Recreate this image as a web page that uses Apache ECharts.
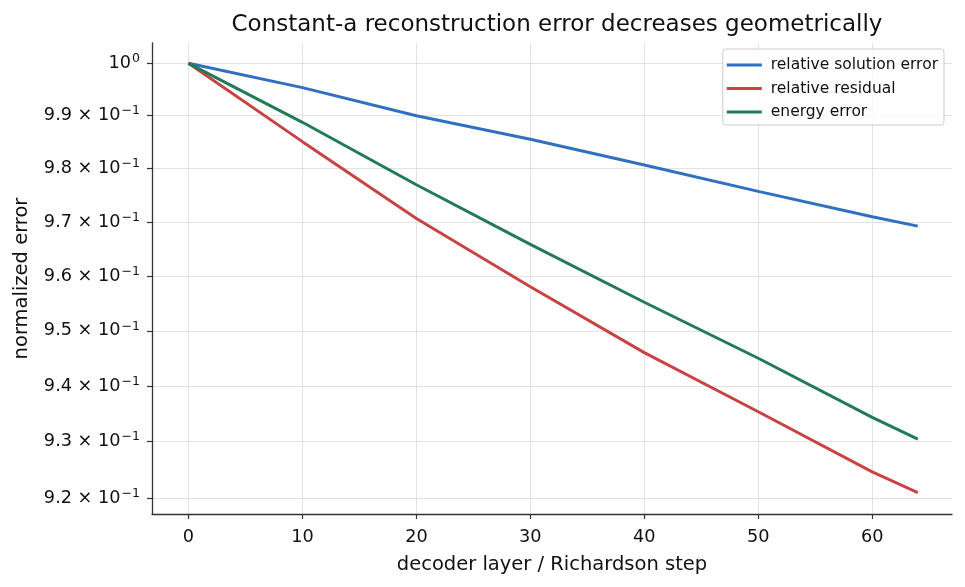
<!DOCTYPE html>
<html>
<head>
<meta charset="utf-8">
<script src="https://cdn.jsdelivr.net/npm/echarts@6/dist/echarts.min.js"></script>
<style>
  html, body { margin: 0; padding: 0; background: #fff; }
  #chart { width: 965px; height: 587px; }
</style>
</head>
<body>
<div id="chart"></div>
<script>
// data
var steps = [0, 10, 20, 30, 40, 50, 60, 64];
var solutionErr = [1.0, 0.99534, 0.9900, 0.98555, 0.9807, 0.97574, 0.9710, 0.96926];
var residualErr = [1.0, 0.98509, 0.97069, 0.95805, 0.94603, 0.93536, 0.92464, 0.92096];
var energyErr = [1.0, 0.98875, 0.97698, 0.96587, 0.95521, 0.94501, 0.93436, 0.93048];
var xTicks = [0, 10, 20, 30, 40, 50, 60];
var yTicks = [0.92, 0.93, 0.94, 0.95, 0.96, 0.97, 0.98, 0.99, 1.0];

function pairs(xs, ys) {
    return xs.map(function (x, i) { return [x, ys[i]]; });
}

var font = 'DejaVu Sans';
var myChart = echarts.init(document.getElementById('chart'));

var op = {
    backgroundColor: '#ffffff',
    textStyle: { fontFamily: font },
    animation: false,
    title: {
        text: 'Constant-a reconstruction error decreases geometrically',
        left: 552,
        top: 9,
        textAlign: 'center',
        textStyle: { fontFamily: font, fontSize: 23, fontWeight: 'normal', color: '#111' }
    },
    legend: {
        orient: 'vertical',
        right: 21,
        top: 49,
        padding: [8, 6, 5, 4],
        itemGap: 7.5,
        itemWidth: 35,
        itemHeight: 3,
        icon: 'rect',
        borderColor: '#cccccc',
        borderWidth: 1,
        borderRadius: 3,
        backgroundColor: 'rgba(255,255,255,0.8)',
        textStyle: { fontFamily: font, fontSize: 15.5, color: '#111', padding: [0, 0, 0, 4] },
        data: ['relative solution error', 'relative residual', 'energy error']
    },
    grid: { left: 152, right: 13, top: 43, bottom: 73 },
    xAxis: {
        type: 'value',
        min: -3.2,
        max: 67,
        name: 'decoder layer / Richardson step',
        nameLocation: 'middle',
        nameGap: 41,
        nameTextStyle: { fontFamily: font, fontSize: 19.5, color: '#111' },
        axisLine: { show: true, onZero: false, lineStyle: { color: '#333', width: 1.3 } },
        axisTick: { show: true, length: 5, customValues: xTicks, lineStyle: { color: '#333', width: 1.2 } },
        axisLabel: { customValues: xTicks, margin: 14, fontFamily: font, fontSize: 17.7, color: '#111' },
        splitLine: { show: true, lineStyle: { color: '#e3e3e3', width: 1 } }
    },
    yAxis: {
        type: 'log',
        logBase: 10,
        min: 0.9172,
        max: 1.0039,
        name: 'normalized error',
        nameLocation: 'middle',
        nameGap: 120,
        nameTextStyle: { fontFamily: font, fontSize: 19.5, color: '#111' },
        axisLine: { show: true, onZero: false, lineStyle: { color: '#333', width: 1.3 } },
        axisTick: { show: true, length: 5, customValues: yTicks, lineStyle: { color: '#333', width: 1.2 } },
        axisLabel: {
            customValues: yTicks,
            margin: 12,
            formatter: function (v) {
                if (Math.abs(v - 1) < 1e-9) return '{b|10}{s|0}';
                return '{b|' + (v * 10).toFixed(1) + ' × 10}{s|−1}';
            },
            rich: {
                b: { fontFamily: font, fontSize: 17.7, color: '#111' },
                s: { fontFamily: font, fontSize: 12.5, color: '#111', verticalAlign: 'top', padding: [0, 0, 9, 1] }
            }
        },
        splitLine: { show: true, lineStyle: { color: '#e3e3e3', width: 1 } }
    },
    series: [{
        name: 'relative solution error',
        type: 'line',
        data: pairs(steps, solutionErr),
        showSymbol: false,
        lineStyle: { color: '#3070C0', width: 3 },
        itemStyle: { color: '#3070C0' }
    }, {
        name: 'relative residual',
        type: 'line',
        data: pairs(steps, residualErr),
        showSymbol: false,
        lineStyle: { color: '#C84444', width: 3 },
        itemStyle: { color: '#C84444' }
    }, {
        name: 'energy error',
        type: 'line',
        data: pairs(steps, energyErr),
        showSymbol: false,
        lineStyle: { color: '#237A57', width: 3 },
        itemStyle: { color: '#237A57' }
    }]
};

myChart.setOption(op);
</script>
</body>
</html>
